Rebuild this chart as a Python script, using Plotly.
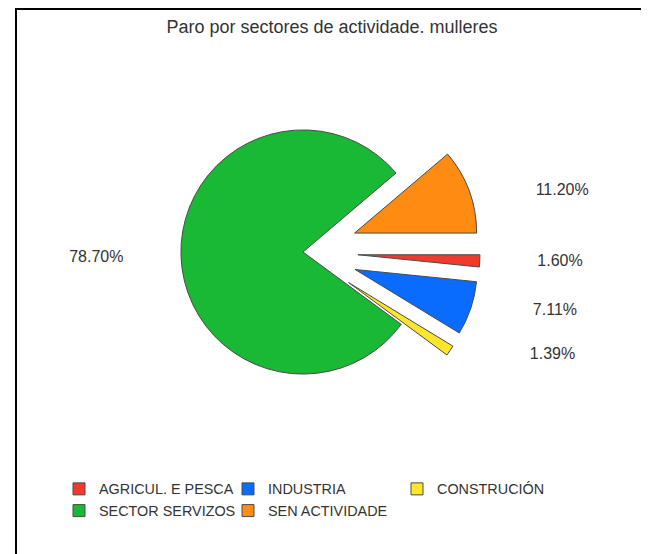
import plotly.graph_objects as go

labels = ["AGRICUL. E PESCA", "INDUSTRIA", "CONSTRUCIÓN", "SECTOR SERVIZOS", "SEN ACTIVIDADE"]
values = [1.60, 7.11, 1.39, 78.70, 11.20]
colors = ["#F23A2C", "#0A6CFF", "#FFE62E", "#19B935", "#FF8C12"]
pulls = [0.45, 0.45, 0.45, 0.0, 0.45]
title_text = "Paro por sectores de actividade. mulleres"

# label padding (in non-breaking spaces) to push the outside labels sideways
pad_before = [12, 13, 17, 0, 14]
pad_after = [0, 0, 0, 12, 0]

W, H = 649, 554
OFF = 8  # page body margin offset compensation
NB = "\u00a0"
texts = [NB * a + f"{v:.2f}%" + NB * b for v, a, b in zip(values, pad_before, pad_after)]


def px(x):
    return (x - OFF) / W


def py(y):
    return 1 - (y - OFF) / H


fig = go.Figure()
fig.add_trace(go.Pie(
    labels=labels,
    values=values,
    text=texts,
    texttemplate="%{text}",
    textinfo="text",
    textposition="outside",
    sort=False,
    direction="clockwise",
    rotation=90,
    pull=pulls,
    marker=dict(colors=colors, line=dict(color="#4a4a4a", width=1)),
    outsidetextfont=dict(family="Liberation Sans, Arial, sans-serif", size=16, color="#333333"),
    domain=dict(x=[px(126), px(480)], y=[py(429), py(75)]),
    hoverinfo="label+percent",
))

fig.update_layout(
    width=W, height=H,
    margin=dict(l=0, r=0, t=0, b=0, autoexpand=False),
    paper_bgcolor="white",
    plot_bgcolor="white",
    font=dict(family="Liberation Sans, Arial, sans-serif", color="#333333"),
    title=dict(text=title_text, x=px(332), xanchor="center", y=py(27), yanchor="middle",
               yref="container", xref="container",
               font=dict(size=18, color="#333333")),
    showlegend=True,
    legend=dict(orientation="h", x=px(59), xanchor="left", y=py(473), yanchor="top",
                entrywidth=124, font=dict(size=14.4, color="#333333"),
                itemwidth=30, traceorder="normal", bgcolor="rgba(0,0,0,0)"),
    shapes=[dict(type="rect", xref="paper", yref="paper",
                 x0=px(16), x1=px(642), y0=-0.05, y1=1 - 1 / H,
                 line=dict(color="black", width=2), fillcolor="rgba(0,0,0,0)")],
)

fig.write_html("out.html")
